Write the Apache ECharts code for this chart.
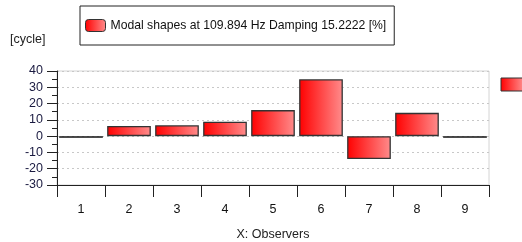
<!DOCTYPE html>
<html><head><meta charset="utf-8">
<script src="https://cdn.jsdelivr.net/npm/echarts@6/dist/echarts.min.js"></script>
<style>html,body{margin:0;padding:0;background:#fff}#c{width:522px;height:242px}</style>
</head><body><div id="c"></div>
<script>
const categories = ['1','2','3','4','5','6','7','8','9'];
const values = [-1.0, 6.3, 6.7, 8.8, 16.0, 34.9, -14.0, 14.3, -1.0];
const seriesName = 'Modal shapes at 109.894 Hz Damping 15.2222 [%]';
const yTitle = '[cycle]';
const xTitle = 'X: Observers';
const yMin = -30, yMax = 40, yStep = 10;

const FONT = 'Liberation Sans';
const grad = new echarts.graphic.LinearGradient(0,0,1,0,[{offset:0,color:'#ff0000'},{offset:1,color:'#ff8c8c'}]);
const barData = values.map(v => Math.abs(v) < 2
  ? {value:v, itemStyle:{color:'#111',borderColor:'#111',borderWidth:1.5}}
  : v);
const chart = echarts.init(document.getElementById('c'), null, {renderer:'canvas'});
chart.setOption({
  animation:false,
  textStyle:{fontFamily:FONT},
  grid:{left:57,right:33,top:71,bottom:57,show:true,borderColor:'#d4d4d4',borderWidth:1},
  legend:{
    left:80, top:6, itemWidth:20, itemHeight:12, itemGap:6,
    padding:[13,8,13,5],
    borderColor:'#222', borderWidth:1,
    textStyle:{fontFamily:FONT,fontSize:12.2,color:'#111'},
    data:[{name:seriesName,itemStyle:{color:grad,borderColor:'#333',borderWidth:1}}]
  },
  graphic:[
    {type:'text',left:10,top:33,style:{text:yTitle,fontFamily:FONT,fontSize:12.5,fill:'#222'}},
    {type:'rect',shape:{x:501,y:78,width:22,height:13},style:{fill:grad,stroke:'#333',lineWidth:1}}
  ],
  xAxis:{
    type:'category', data:categories, boundaryGap:true,
    axisLine:{onZero:false,lineStyle:{color:'#222',width:1}},
    axisTick:{show:true,length:12,lineStyle:{color:'#222'}},
    axisLabel:{margin:18,fontFamily:FONT,fontSize:12.5,color:'#111'},
    name:xTitle, nameLocation:'middle', nameGap:43,
    nameTextStyle:{fontFamily:FONT,fontSize:12.5,color:'#222'},
    splitLine:{show:false}
  },
  yAxis:{
    type:'value', min:yMin, max:yMax, interval:yStep,
    axisLine:{show:true,lineStyle:{color:'#222',width:1}},
    axisTick:{show:true,length:10,lineStyle:{color:'#222'}},
    minorTick:{show:true,splitNumber:2,length:5,lineStyle:{color:'#222'}},
    axisLabel:{margin:14,fontFamily:FONT,fontSize:12.5,color:'#1a1a40'},
    splitLine:{show:true,lineStyle:{color:'#c8c8c8',type:[2,3],width:1}}
  },
  series:[{
    name:seriesName, type:'bar', data:barData, barCategoryGap:'9%',
    itemStyle:{color:grad,borderColor:'#333',borderWidth:1.3}
  }]
});
</script></body></html>
